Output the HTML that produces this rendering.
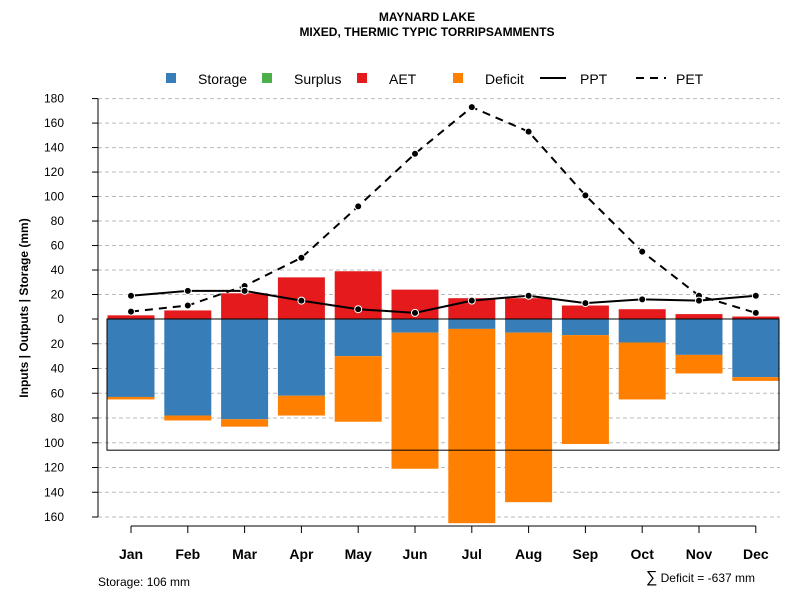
<!DOCTYPE html>
<html><head><meta charset="utf-8">
<style>body{margin:0;background:#fff;font-family:"Liberation Sans",sans-serif}</style></head>
<body>
<svg id="chart" width="800" height="600" xmlns="http://www.w3.org/2000/svg" font-family="Liberation Sans, sans-serif">
<text x="427" y="21" text-anchor="middle" font-size="12" font-weight="bold">MAYNARD LAKE</text>
<text x="427" y="36" text-anchor="middle" font-size="12" font-weight="bold">MIXED, THERMIC TYPIC TORRIPSAMMENTS</text>
<g id="legend" font-size="14">
<g><rect x="166" y="73" width="10" height="10" fill="#377eb8"/><text x="198" y="84">Storage</text></g>
<g><rect x="262" y="73" width="10" height="10" fill="#4daf4a"/><text x="294" y="84">Surplus</text></g>
<g><rect x="357" y="73" width="10" height="10" fill="#e41a1c"/><text x="389" y="84">AET</text></g>
<g><rect x="453" y="73" width="10" height="10" fill="#ff7f00"/><text x="485" y="84">Deficit</text></g>
<g><line x1="540" y1="78" x2="566" y2="78" stroke="#000" stroke-width="2"/><text x="580" y="84">PPT</text></g>
<g><line x1="636" y1="78" x2="666" y2="78" stroke="#000" stroke-width="2" stroke-dasharray="8,6"/><text x="676" y="84">PET</text></g>
</g>
<text transform="translate(28,308) rotate(-90)" text-anchor="middle" font-size="12" font-weight="bold">Inputs | Outputs | Storage    (mm)</text>
<text x="98" y="586" font-size="12">Storage: 106 mm</text>
<text x="755" y="582" text-anchor="end" font-size="12"><tspan font-size="16">∑</tspan> Deficit = -637 mm</text>
<g id="grid"></g><g id="bars"></g><g id="lines"></g><g id="axes"></g>
</svg>
<script>
const months=["Jan","Feb","Mar","Apr","May","Jun","Jul","Aug","Sep","Oct","Nov","Dec"];
const aet=[3,7,21,34,39,24,17,17,11,8,4,2];
const storage=[63,78,81,62,30,11,8,11,13,19,29,47];
const deficit=[2,4,6,16,53,110,157,137,88,46,15,3];
const ppt=[19,23,23,15,8,5,15,19,13,16,15,19];
const pet=[6,11,27,50,92,135,173,153,101,55,19,5];
const yTicks=[180,160,140,120,100,80,60,40,20,0,20,40,60,80,100,120,140,160];
const storageCap=106;
const NS="http://www.w3.org/2000/svg";
const KU=1.2245, KD=1.2375;
const y=v=>v>=0?319-v*KU:319-v*KD;
const x=i=>131+i*56.8;
const bw=47;
function mk(t,a,p){const e=document.createElementNS(NS,t);for(const k in a)e.setAttribute(k,a[k]);document.getElementById(p).appendChild(e);return e;}
yTicks.forEach((t,i)=>{const v=i<10?t:-t;const yy=y(v);
 if(v!==0){const g=mk('line',{x1:98,x2:780,y1:yy,y2:yy,stroke:'#bbb','stroke-dasharray':'4,3'},'grid');
 
 }
 const tk=mk('line',{x1:92,x2:98,y1:yy,y2:yy,stroke:'#000'},'axes');
 
 
 const tl=mk('text',{x:64,y:yy+4,'text-anchor':'end','font-size':12},'axes');tl.textContent=t;
 
 });
const ya=mk('line',{x1:98,x2:98,y1:y(180),y2:y(-160),stroke:'#000'},'axes');


months.forEach((m,i)=>{const cx=x(i);
 const a=mk('rect',{x:cx-bw/2,y:y(aet[i]),width:bw,height:aet[i]*KU,fill:'#e41a1c'},'bars');
 
 
 const s=mk('rect',{x:cx-bw/2,y:y(0),width:bw,height:storage[i]*KD,fill:'#377eb8'},'bars');
 
 
 const d=mk('rect',{x:cx-bw/2,y:y(-storage[i]),width:bw,height:deficit[i]*KD,fill:'#ff7f00'},'bars');
 
 
 const tk=mk('line',{x1:cx,x2:cx,y1:526,y2:533,stroke:'#000'},'axes');
 
 
 const tl=mk('text',{x:cx,y:559,'text-anchor':'middle','font-size':14,'font-weight':'bold'},'axes');tl.textContent=m;
 
 });
const xa=mk('line',{x1:x(0),x2:x(11),y1:526,y2:526,stroke:'#000'},'axes');


const box=mk('rect',{x:107,y:y(0),width:672,height:storageCap*KD,fill:'none',stroke:'#000'},'bars');


const zl=mk('line',{x1:107,x2:779,y1:y(0),y2:y(0),stroke:'#000'},'bars');


[[pet,'8,6','pet'],[ppt,null,'ppt']].forEach(([arr,da,n])=>{
 const p=mk('polyline',{points:arr.map((v,i)=>x(i)+','+y(v)).join(' '),fill:'none',stroke:'#000','stroke-width':2},'lines');
 if(da)p.setAttribute('stroke-dasharray',da);
 
 
 arr.forEach((v,i)=>{const c=mk('circle',{cx:x(i),cy:y(v),r:3.5,fill:'#000',stroke:'#fff','stroke-width':1},'lines');
 
 });
});
</script>
</body></html>
